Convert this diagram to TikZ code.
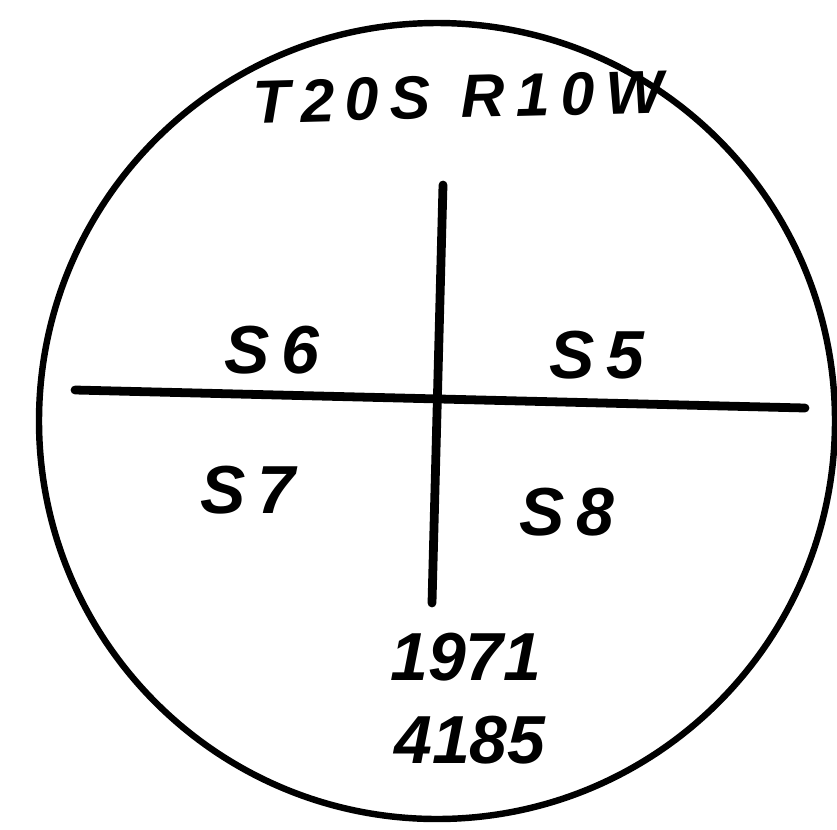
\documentclass[tikz,border=0pt]{standalone}
\usepackage{fontspec}
\setmainfont{Liberation Sans}
\newfontfamily\handfont[LetterSpace=18]{Liberation Sans}
\tikzset{
  hand/.style={font=\handfont\bfseries\itshape\fontsize{58}{58}\selectfont, inner sep=0pt},
  handnum/.style={font=\bfseries\itshape\fontsize{58}{58}\selectfont, inner sep=0pt},
  handsmall/.style={font=\handfont\bfseries\itshape\fontsize{52}{52}\selectfont, inner sep=0pt, rotate=1.5},
  pen/.style={line width=7.5pt, line cap=round},
}
\begin{document}
\begin{tikzpicture}[x=0.03cm,y=-0.03cm]
\useasboundingbox (0,0) rectangle (837,829);
\draw[line width=5.5pt] (437,421) circle[radius=398];
\coordinate (hl) at (75,390);
\coordinate (hr) at (805,408);
\coordinate (vt) at (443,185);
\coordinate (vb) at (432,603);
\draw[pen] (hl) -- (hr);
\draw[pen] (vt) -- (vb);
\node[handsmall] (title) at (458,97) {T20S\,\,\,R10W};
\node[hand] (s6) at (272,350) {S6};
\node[hand] (s5) at (597,355) {S5};
\node[hand] (s7) at (248,490) {S7};
\node[hand] (s8) at (567,512) {S8};
\node[handnum] (yr) at (466,657) {1971};
\node[handnum] (num) at (470,740) {4185};
\end{tikzpicture}
\end{document}
